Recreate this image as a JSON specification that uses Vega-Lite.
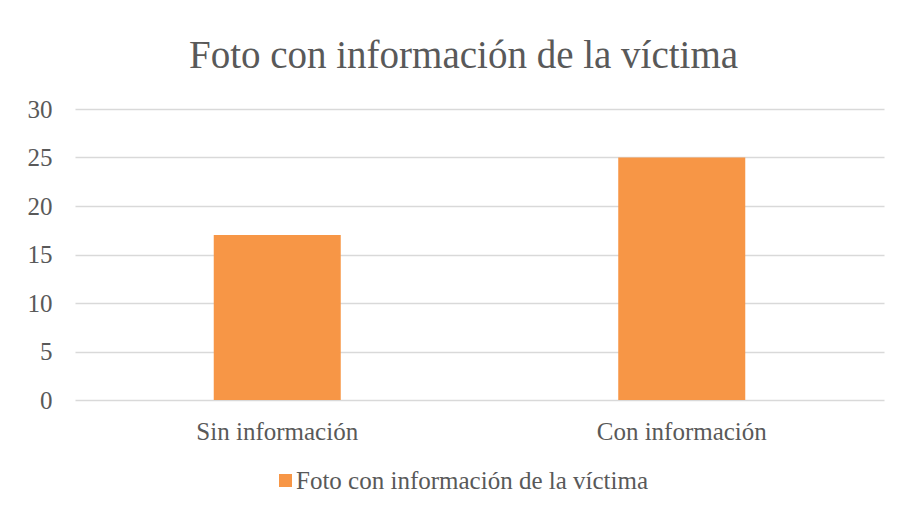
{
  "$schema": "https://vega.github.io/schema/vega-lite/v6.json",
  "autosize": {"type": "none"},
  "width": 809,
  "height": 291,
  "padding": {"left": 75, "top": 109, "right": 16, "bottom": 114},
  "background": "white",
  "title": {
    "text": "Foto con información de la víctima",
    "font": "Liberation Serif",
    "fontSize": 39,
    "fontWeight": "normal",
    "color": "#595959",
    "anchor": "middle",
    "frame": "group",
    "dx": -16,
    "offset": 21
  },
  "data": {
    "values": [
      {"categoria": "Sin información", "valor": 17, "serie": "Foto con información de la víctima"},
      {"categoria": "Con información", "valor": 25, "serie": "Foto con información de la víctima"}
    ]
  },
  "mark": {"type": "bar"},
  "encoding": {
    "x": {
      "field": "categoria",
      "type": "nominal",
      "sort": null,
      "title": null,
      "scale": {"paddingInner": 0.686, "paddingOuter": 0.343},
      "axis": {
        "labelAngle": 0,
        "domain": false,
        "ticks": false,
        "labelFont": "Liberation Serif",
        "labelFontSize": 25,
        "labelColor": "#595959",
        "labelPadding": 19
      }
    },
    "y": {
      "field": "valor",
      "type": "quantitative",
      "title": null,
      "scale": {"domain": [0, 30]},
      "axis": {
        "values": [0, 5, 10, 15, 20, 25, 30],
        "domain": false,
        "ticks": false,
        "gridColor": "#d9d9d9",
        "gridWidth": 1.3,
        "labelFont": "Liberation Serif",
        "labelFontSize": 25,
        "labelColor": "#595959",
        "labelPadding": 23
      }
    },
    "color": {
      "field": "serie",
      "type": "nominal",
      "scale": {"range": ["#F79646"]},
      "legend": {
        "title": null,
        "orient": "none",
        "legendX": 198,
        "legendY": 359,
        "padding": 0,
        "symbolType": "square",
        "symbolSize": 169,
        "symbolStrokeWidth": 0,
        "symbolOpacity": 1,
        "labelFont": "Liberation Serif",
        "labelFontSize": 25,
        "labelColor": "#595959",
        "labelOffset": -2,
        "labelLimit": 0
      }
    }
  },
  "config": {
    "view": {"stroke": null}
  }
}
